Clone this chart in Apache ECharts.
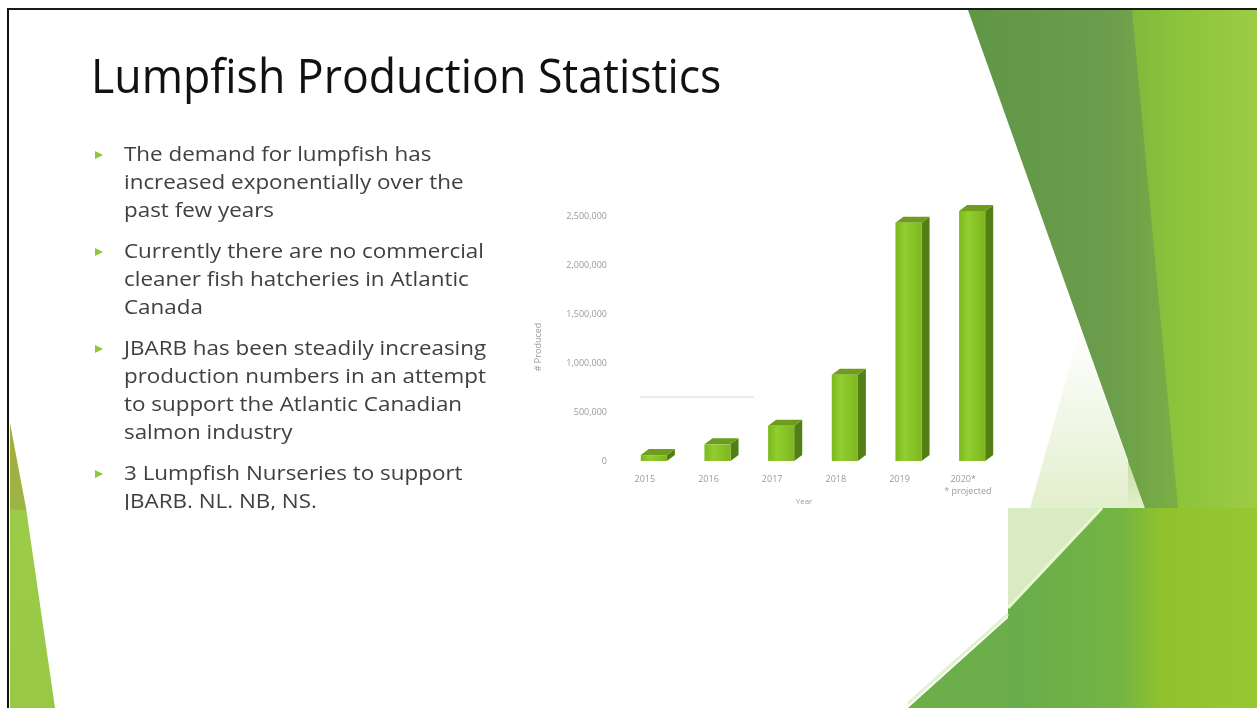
<!DOCTYPE html>
<html>
<head>
<meta charset="utf-8">
<script src="https://cdn.jsdelivr.net/npm/echarts@6/dist/echarts.min.js"></script>
<style>
html,body{margin:0;padding:0;background:#fff;}
#chart{width:1257px;height:708px;}
</style>
</head>
<body>
<div id="chart"></div>
<script>
// ---- data ----
const years = ['2015', '2016', '2017', '2018', '2019', '2020*'];
const produced = [60000, 170000, 360000, 880000, 2430000, 2550000];
const yTicks = [0, 500000, 1000000, 1500000, 2000000, 2500000];
const titleText = 'Lumpfish Production Statistics';
const bullets = [
  ['The demand for lumpfish has', 'increased exponentially over the', 'past few years'],
  ['Currently there are no commercial', 'cleaner fish hatcheries in Atlantic', 'Canada'],
  ['JBARB has been steadily increasing', 'production numbers in an attempt', 'to support the Atlantic Canadian', 'salmon industry'],
  ['3 Lumpfish Nurseries to support', 'JBARB. NL. NB, NS.']
];
const yAxisTitle = '# Produced';
const xAxisTitle = 'Year';
const projectedNote = '* projected';

// ---- layout ----
const FONT = '"Open Sans", "Noto Sans", sans-serif';
const graphics = [];

// decorative right shapes
graphics.push({type:'rect', z:0, shape:{x:1128,y:10,width:129,height:498},
  style:{fill:{type:'linear',x:0,y:0,x2:1,y2:0,colorStops:[{offset:0,color:'#7fb83c'},{offset:0.4,color:'#8cc43c'},{offset:1,color:'#9dcc44'}]}}});
graphics.push({type:'polygon', z:0, shape:{points:[[1080,330],[1145,508],[1030,508]]},
  style:{fill:{type:'linear',x:0,y:0,x2:0,y2:1,colorStops:[{offset:0,color:'rgba(225,238,205,0)'},{offset:1,color:'#e2efcc'}]}}});
graphics.push({type:'polygon', z:1, shape:{points:[[968,10],[1132,10],[1178,508],[1145,508]]},
  style:{fill:{type:'linear',x:0,y:0,x2:1,y2:0,colorStops:[{offset:0,color:'#5f9646'},{offset:0.7,color:'#6c9e4c'},{offset:1,color:'#7aae44'}]}}});
// lower right pasted block
graphics.push({type:'rect', z:1, shape:{x:1008,y:508,width:249,height:200},
  style:{fill:{type:'linear',x:0,y:0,x2:1,y2:0,colorStops:[{offset:0,color:'#68ad4c'},{offset:0.45,color:'#74b444'},{offset:0.62,color:'#8fc22c'},{offset:1,color:'#97c832'}]}}});
graphics.push({type:'polygon', z:2, shape:{points:[[1008,508],[1102,508],[1008,608]]},
  style:{fill:'#d9ebc2'}});
graphics.push({type:'line', z:2, shape:{x1:1008,y1:608,x2:1102,y2:508},
  style:{stroke:'#e6f8cc',lineWidth:3}});
graphics.push({type:'polygon', z:1, shape:{points:[[908,708],[1008,618],[1008,708]]},
  style:{fill:'#6cae4a'}});
graphics.push({type:'line', z:1, shape:{x1:905,y1:706,x2:1008,y2:614},
  style:{stroke:'#e2f2cc',lineWidth:3}});

// title
graphics.push({type:'text', z:5, x:91, y:79, scaleX:0.93,
  style:{text:titleText, fill:'#111', font:'48px ' + FONT, verticalAlign:'middle'}});

// bullets
const lineH = 28;
let yCur = 155;
bullets.forEach(function(group){
  graphics.push({type:'polygon', z:5, shape:{points:[[95,yCur-4],[103,yCur],[95,yCur+4]]}, style:{fill:'#8cc63f'}});
  group.forEach(function(line, li){
    graphics.push({type:'text', z:5, x:124, y:yCur + li*lineH, scaleX:1.12,
      style:{text:line, fill:'#404040', font:'20px ' + FONT, verticalAlign:'middle'}});
  });
  yCur += group.length*lineH + 13;
});
// white cover clipping the slide text at bottom
graphics.push({type:'rect', z:6, shape:{x:10,y:510,width:898,height:198}, style:{fill:'#fff'}});
graphics.push({type:'polygon', z:7, shape:{points:[[10,423],[26,508],[55,708],[10,708]]},
  style:{fill:{type:'linear',x:0,y:0,x2:0,y2:1,colorStops:[{offset:0,color:'#a4ac3a'},{offset:0.3,color:'#9cb444'},{offset:0.31,color:'#9ccb4a'},{offset:1,color:'#98c844'}]}}});
// frame
graphics.push({type:'line', z:8, shape:{x1:7,y1:9,x2:1257,y2:9}, style:{stroke:'#1a1a1a',lineWidth:2}});
graphics.push({type:'line', z:8, shape:{x1:8,y1:9,x2:8,y2:708}, style:{stroke:'#111',lineWidth:2}});
// faint stray line in chart area
graphics.push({type:'line', z:3, shape:{x1:640,y1:397,x2:754,y2:397}, style:{stroke:'#d6d6d6',lineWidth:1}});
// y axis title
graphics.push({type:'text', z:5, x:538, y:347, rotation:Math.PI/2,
  style:{text:yAxisTitle, fill:'#9a9a9a', font:'9px ' + FONT, align:'center', verticalAlign:'middle'}});

function renderBar(params, api){
  const base = api.coord([api.value(0), 0]);
  const top = api.coord([api.value(0), api.value(1)]);
  const band = api.size([1, 0])[0];
  const w = band * 0.41;
  const cx = base[0] + 9;
  const x0 = cx - w/2, x1 = cx + w/2;
  const dx = 8, dy = -6;
  const yb = base[1], yt = top[1];
  return {type:'group', children:[
    {type:'polygon', shape:{points:[[x1,yb],[x1+dx,yb+dy],[x1+dx,yt+dy],[x1,yt]]}, style:{fill:'#527f14'}},
    {type:'polygon', shape:{points:[[x0,yt],[x0+dx,yt+dy],[x1+dx,yt+dy],[x1,yt]]}, style:{fill:'#6e9c1e'}},
    {type:'rect', shape:{x:x0,y:yt,width:w,height:yb-yt},
      style:{fill:{type:'linear',x:0,y:0,x2:1,y2:0,colorStops:[{offset:0,color:'#7ab81e'},{offset:0.35,color:'#92ce2e'},{offset:1,color:'#7db61e'}]}}}
  ]};
}

const chart = echarts.init(document.getElementById('chart'));
chart.setOption({
  animation:false,
  backgroundColor:'#ffffff',
  graphic:{elements:graphics},
  grid:{left:613, right:262, top:167, bottom:247},
  xAxis:{type:'category', data:years, name:xAxisTitle, nameLocation:'middle', nameGap:27,
    nameTextStyle:{color:'#9a9a9a', fontSize:8, fontFamily:FONT},
    axisLine:{show:false}, axisTick:{show:false},
    axisLabel:{interval:0, color:'#9a9a9a', fontSize:9, fontFamily:FONT, margin:12, lineHeight:12,
      formatter:function(v){ return v.indexOf('*')>=0 ? v + '\n    ' + projectedNote : v; }}},
  yAxis:{type:'value', min:0, max:3000000, interval:500000,
    axisLine:{show:false}, axisTick:{show:false}, splitLine:{show:false},
    axisLabel:{color:'#9a9a9a', fontSize:9, fontFamily:FONT, margin:6, showMaxLabel:false,
      formatter:function(v){ return yTicks.indexOf(v)>=0 ? v.toLocaleString('en-US') : ''; }}},
  series:[{type:'custom', renderItem:renderBar, data:produced.map(function(v,i){return [i, v];}), z:4}]
});
</script>
</body>
</html>
